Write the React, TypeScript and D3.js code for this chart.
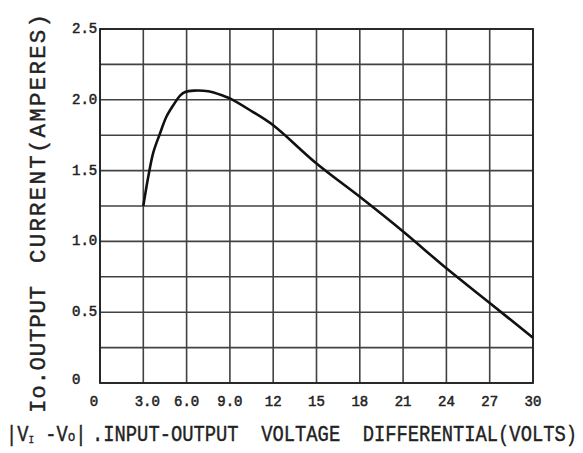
import React from 'react';
import * as d3 from 'd3';

// values
const voltageDiff = [3, 3.35, 3.7, 4.15, 4.6, 5.1, 5.55, 5.9, 6.5, 7.5, 8.5, 9, 10.5, 12, 15, 18, 21, 24, 27, 30];
const outputCurrent = [1.25, 1.46, 1.63, 1.76, 1.88, 1.965, 2.03, 2.055, 2.065, 2.06, 2.03, 2.01, 1.92, 1.82, 1.55, 1.315, 1.07, 0.81, 0.565, 0.32];

const xTickValues = [0, 3, 6, 9, 12, 15, 18, 21, 24, 27, 30];
const xTickLabels = ['0', '3.0', '6.0', '9.0', '12', '15', '18', '21', '24', '27', '30'];
const yTickValues = [0, 0.5, 1.0, 1.5, 2.0, 2.5];
const yTickLabels = ['0', '0.5', '1.0', '1.5', '2.0', '2.5'];
const yGridValues = d3.range(0, 2.51, 0.25);

const W = 583;
const H = 453;
const plot = { left: 100, right: 533, top: 29, bottom: 383 };
const FONT = '"Liberation Mono", "DejaVu Sans Mono", monospace';
const INK = '#222';

export default function App() {
    const x = d3.scaleLinear().domain([0, 30]).range([plot.left, plot.right]);
    const y = d3.scaleLinear().domain([0, 2.5]).range([plot.bottom, plot.top]);

    const points: [number, number][] = voltageDiff.map((v, i) => [v, outputCurrent[i]]);
    const line = d3.line<[number, number]>()
        .x(d => x(d[0]))
        .y(d => y(d[1]))
        .curve(d3.curveCatmullRom.alpha(0.5));

    const title = { fontFamily: FONT, fill: INK, stroke: INK, strokeWidth: 0.4 };

    return (
        <svg width={W} height={H} style={{ position: 'absolute', left: 0, top: 0, background: '#fff' }}>
            {/* grid */}
            <g stroke={INK} strokeWidth={1.6} opacity={0.85}>
                {xTickValues.map(v => (
                    <line key={'vx' + v} x1={x(v)} x2={x(v)} y1={plot.top} y2={plot.bottom} />
                ))}
                {yGridValues.map(v => (
                    <line key={'hy' + v} x1={plot.left} x2={plot.right} y1={y(v)} y2={y(v)} />
                ))}
            </g>
            <rect x={plot.left} y={plot.top} width={plot.right - plot.left} height={plot.bottom - plot.top}
                fill="none" stroke={INK} strokeWidth={1.8} />

            {/* curve */}
            <path d={line(points) ?? ''} fill="none" stroke="#111" strokeWidth={2.6} strokeLinejoin="round" />

            {/* y tick labels */}
            <g fontFamily={FONT} fontSize={14} fill={INK} stroke={INK} strokeWidth={0.5}>
                {yTickValues.map((v, i) => (
                    <text key={'yt' + v} x={72} y={y(v) - (v === 0 ? 3 : 0)} dominantBaseline="central">
                        {yTickLabels[i]}
                    </text>
                ))}
            </g>

            {/* x tick labels */}
            <g fontFamily={FONT} fontSize={14} fill={INK} stroke={INK} strokeWidth={0.5} textAnchor="middle">
                {xTickValues.map((v, i) => (
                    <text key={'xt' + v} x={x(v) + (v === 0 ? -6 : v === 3 ? 4 : 0)} y={406}>
                        {xTickLabels[i]}
                    </text>
                ))}
            </g>

            {/* x axis title */}
            <text transform="translate(6,441) scale(0.85,1)" fontSize={22} {...title} style={{ whiteSpace: 'pre' }}>
                {'|V'}<tspan fontSize={11} dy={2}>{'I'}</tspan><tspan dy={-2}>{' -V'}</tspan><tspan fontSize={15}>{'o'}</tspan>{'|'}
            </text>
            <text transform="translate(92,441) scale(0.855,1)" fontSize={22} {...title} style={{ whiteSpace: 'pre' }}>
                {'.INPUT-OUTPUT  VOLTAGE  DIFFERENTIAL(VOLTS)'}
            </text>

            {/* y axis title */}
            <text transform="translate(45,413) rotate(-90)" fontSize={22.5} letterSpacing={0.7} {...title}>
                {'Io.OUTPUT'}
            </text>
            <text transform="translate(45,263) rotate(-90)" fontSize={22.5} letterSpacing={2.2} {...title}>
                {'CURRENT(AMPERES)'}
            </text>
        </svg>
    );
}
